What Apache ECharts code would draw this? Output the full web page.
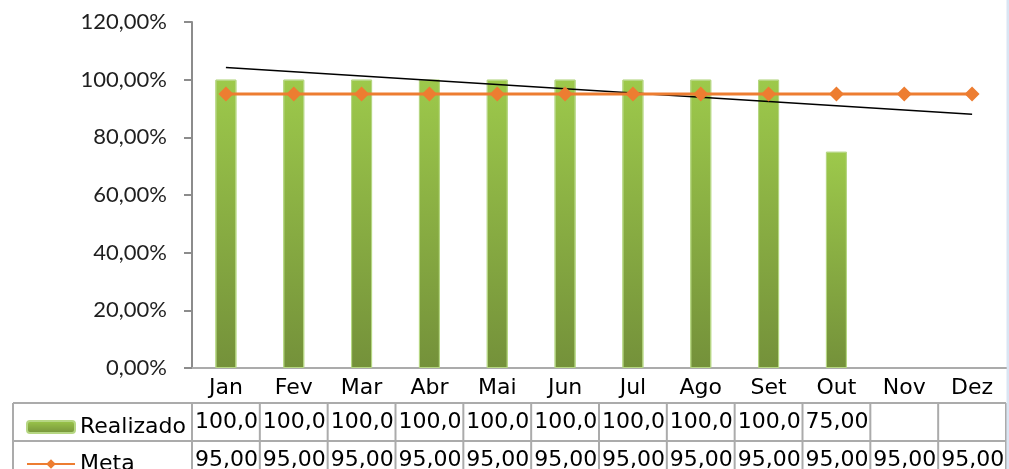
<!DOCTYPE html>
<html><head><meta charset="utf-8">
<script src="https://cdn.jsdelivr.net/npm/echarts@6/dist/echarts.min.js"></script>
<style>html,body{margin:0;padding:0;background:#fff}#c{width:1009px;height:469px}</style>
</head><body><div id="c"></div>
<script>
const categories = ['Jan','Fev','Mar','Abr','Mai','Jun','Jul','Ago','Set','Out','Nov','Dez'];
const realizado = [100,100,100,100,100,100,100,100,100,75,null,null];
const meta = [95,95,95,95,95,95,95,95,95,95,95,95];
const trendline = [104.2,null,null,null,null,null,null,null,null,null,null,88.0];
const yMin = 0, yMax = 120, yStep = 20;
const seriesNames = ['Realizado','Meta'];

const chart = echarts.init(document.getElementById('c'), null, {renderer:'canvas'});
const fmt = v => v.toFixed(2).replace('.', ',');
const grid = '#ABABAB';
const barGrad = new echarts.graphic.LinearGradient(0,0,0,1,[{offset:0,color:'#9DC94B'},{offset:1,color:'#74913A'}]);
const TABLE_FONT = 'DejaVu Sans';
const legendBase = {orient:'vertical', left:21, itemWidth:48, itemHeight:12,
  textStyle:{fontFamily:TABLE_FONT, fontSize:22, color:'#000'}};

chart.setOption({
  animation:false,
  grid:{left:192,right:3,top:22,bottom:101},
  legend:[
    Object.assign({data:[seriesNames[0]], top:411}, legendBase),
    Object.assign({data:[seriesNames[1]], top:448}, legendBase)
  ],
  xAxis:{type:'category', data:categories,
    axisLine:{lineStyle:{color:grid,width:2}},
    axisTick:{length:35, lineStyle:{color:grid,width:2}},
    axisLabel:{margin:9, fontFamily:TABLE_FONT, fontSize:22, color:'#000'}},
  yAxis:{type:'value', min:yMin, max:yMax, interval:yStep,
    axisLine:{show:true, lineStyle:{color:'#8C8C8C',width:2}},
    axisTick:{show:true, length:8, lineStyle:{color:'#8C8C8C',width:2}},
    splitLine:{show:false},
    axisLabel:{formatter: v => fmt(v)+'%', fontFamily:'Lato', fontSize:22, color:'#1F1F1F', margin:25}},
  series:[
    {name:'Realizado', type:'bar', data:realizado, barWidth:21,
      itemStyle:{color:barGrad, borderColor:'#B6D783', borderWidth:1}},
    {name:'Tendência', type:'line', data:trendline, connectNulls:true, symbol:'none', z:3,
      lineStyle:{color:'#000',width:1.5}},
    {name:'Meta', type:'line', data:meta, symbol:'diamond', symbolSize:15, z:4,
      lineStyle:{color:'#ED7D31',width:3}, itemStyle:{color:'#ED7D31'}}
  ]
});

// data table below axis
const x0 = chart.convertToPixel({xAxisIndex:0}, 0);
const x1 = chart.convertToPixel({xAxisIndex:0}, 1);
const band = x1 - x0;
const axisY = chart.convertToPixel({yAxisIndex:0}, 0);
const leftX = x0 - band/2;
const rightX = leftX + band*categories.length;
const rowTops = [axisY+35, axisY+73];
const rowH = 38;
const H = 469;
const els = [];
const line = (xa,ya,xb,yb) => els.push({type:'line', shape:{x1:xa,y1:ya,x2:xb,y2:yb}, style:{stroke:grid,lineWidth:2}, silent:true});
rowTops.forEach(t => line(13, t, rightX, t));
line(13, rowTops[0], 13, H);
for (let i=0;i<=categories.length;i++){ const bx = leftX + i*band; line(bx, rowTops[0], bx, H); }
[realizado, meta].forEach((arr, r) => {
  arr.forEach((v, i) => {
    if (v == null) return;
    els.push({type:'text', silent:true, style:{
      text: fmt(v), x: leftX + i*band + 3, y: rowTops[r] + rowH/2,
      verticalAlign:'middle', align:'left', font: '22px "' + TABLE_FONT + '"', fill:'#000',
      width: band - 2, overflow:'truncate', ellipsis:''
    }});
  });
});
els.push({type:'rect', shape:{x:1006.5,y:0,width:3,height:H}, style:{fill:'#DAE5F3'}, silent:true});
chart.setOption({graphic:els});
</script></body></html>
